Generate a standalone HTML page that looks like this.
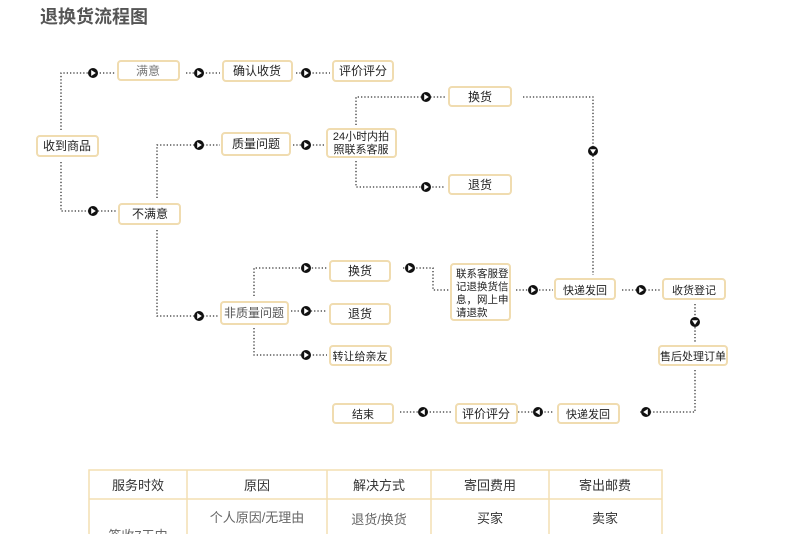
<!DOCTYPE html>
<html><head><meta charset="utf-8"><style>
body{margin:0;background:#fff;width:790px;height:534px;overflow:hidden;font-family:"Liberation Sans","Noto Sans CJK SC",sans-serif}
svg text{font-family:"Liberation Sans","Noto Sans CJK SC",sans-serif}
</style></head><body>
<svg width="790" height="534" viewBox="0 0 790 534" xmlns="http://www.w3.org/2000/svg">
<defs>
<g id="m"><circle r="5" fill="#111"/><path d="M-1.8,-3 L2.8,0 L-1.8,3Z" fill="#fff"/></g>
</defs>
<text x="40" y="23" font-size="18" font-weight="bold" fill="#555">退换货流程图</text>
<g fill="none" stroke="#333" stroke-width="1.3" stroke-dasharray="1.3 2">
<polyline points="61,130 61,73 116,73"/>
<polyline points="61,162 61,211 116,211"/>
<line x1="186" y1="73" x2="220" y2="73"/>
<line x1="296" y1="73" x2="330" y2="73"/>
<polyline points="157,198 157,145 220,145"/>
<line x1="293" y1="145" x2="325" y2="145"/>
<polyline points="356,125 356,97 445,97"/>
<polyline points="523,97 593,97 593,275"/>
<polyline points="356,161 356,187 445,187"/>
<polyline points="157,230 157,316 218,316"/>
<polyline points="254,296 254,268 327,268"/>
<line x1="291" y1="311" x2="327" y2="311"/>
<polyline points="254,328 254,355 327,355"/>
<polyline points="403,268 433,268 433,290 449,290"/>
<line x1="516" y1="290" x2="553" y2="290"/>
<line x1="622" y1="290" x2="660" y2="290"/>
<line x1="695" y1="304" x2="695" y2="342"/>
<polyline points="695,370 695,412 640,412"/>
<line x1="518" y1="412" x2="553" y2="412"/>
<line x1="400" y1="412" x2="452" y2="412"/>
</g>
<use href="#m" x="93" y="73"/><use href="#m" x="93" y="211"/>
<use href="#m" x="199" y="73"/><use href="#m" x="306" y="73"/>
<use href="#m" x="199" y="145"/><use href="#m" x="306" y="145"/>
<use href="#m" x="426" y="97"/><use href="#m" x="426" y="187"/>
<use href="#m" x="199" y="316"/>
<use href="#m" x="306" y="268"/><use href="#m" x="306" y="311"/><use href="#m" x="306" y="355"/>
<use href="#m" x="410" y="268"/><use href="#m" x="533" y="290"/><use href="#m" x="641" y="290"/>
<use href="#m" transform="translate(593,151) rotate(90)"/>
<use href="#m" transform="translate(695,322) rotate(90)"/>
<use href="#m" transform="translate(646,412) rotate(180)"/>
<use href="#m" transform="translate(538,412) rotate(180)"/>
<use href="#m" transform="translate(423,412) rotate(180)"/>
<g fill="#fff" stroke="#f0dcb0" stroke-width="2">
<rect x="37" y="136" width="61" height="20" rx="3"/>
<rect x="118" y="61" width="61" height="19" rx="3"/>
<rect x="223" y="61" width="69" height="20" rx="3"/>
<rect x="333" y="61" width="60" height="20" rx="3"/>
<rect x="222" y="133" width="68" height="22" rx="3"/>
<rect x="327" y="129" width="69" height="28" rx="3"/>
<rect x="119" y="204" width="61" height="20" rx="3"/>
<rect x="449" y="87" width="62" height="19" rx="3"/>
<rect x="449" y="175" width="62" height="19" rx="3"/>
<rect x="221" y="302" width="67" height="22" rx="3"/>
<rect x="330" y="261" width="60" height="20" rx="3"/>
<rect x="330" y="304" width="60" height="20" rx="3"/>
<rect x="330" y="346" width="61" height="19" rx="3"/>
<rect x="451" y="264" width="59" height="56" rx="3"/>
<rect x="555" y="279" width="60" height="20" rx="3"/>
<rect x="663" y="279" width="62" height="20" rx="3"/>
<rect x="659" y="346" width="68" height="19" rx="3"/>
<rect x="333" y="404" width="60" height="19" rx="3"/>
<rect x="456" y="404" width="61" height="19" rx="3"/>
<rect x="558" y="404" width="61" height="19" rx="3"/>
</g>
<g font-size="12" fill="#222" text-anchor="middle">
<text x="67" y="150">收到商品</text>
<text x="148" y="75" fill="#777">满意</text>
<text x="257" y="75">确认收货</text>
<text x="363" y="75">评价评分</text>
<text x="256" y="148">质量问题</text>
<text x="361" y="140" font-size="11">24小时内拍</text>
<text x="361" y="153" font-size="11">照联系客服</text>
<text x="150" y="218">不满意</text>
<text x="480" y="101">换货</text>
<text x="480" y="189">退货</text>
<text x="254" y="317" fill="#555">非质量问题</text>
<text x="360" y="275">换货</text>
<text x="360" y="318">退货</text>
<text x="360" y="360" font-size="11">转让给亲友</text>
<text x="585" y="294" font-size="11">快递发回</text>
<text x="694" y="294" font-size="11">收货登记</text>
<text x="693" y="360" font-size="11">售后处理订单</text>
<text x="363" y="418" font-size="11">结束</text>
<text x="486" y="418">评价评分</text>
<text x="588" y="418" font-size="11">快递发回</text>
</g>
<g font-size="10.5" fill="#222">
<text x="456" y="277">联系客服登</text>
<text x="456" y="290">记退换货信</text>
<text x="456" y="303">息，网上申</text>
<text x="456" y="316">请退款</text>
</g>
<g fill="none" stroke="#f3dfb2" stroke-width="1.5">
<rect x="89" y="470" width="573" height="70"/>
<line x1="89" y1="499" x2="662" y2="499"/>
<line x1="187" y1="470" x2="187" y2="534"/>
<line x1="327" y1="470" x2="327" y2="534"/>
<line x1="431" y1="470" x2="431" y2="534"/>
<line x1="549" y1="470" x2="549" y2="534"/>
</g>
<g font-size="13" fill="#333" text-anchor="middle">
<text x="138" y="490">服务时效</text>
<text x="257" y="490">原因</text>
<text x="379" y="490">解决方式</text>
<text x="490" y="490">寄回费用</text>
<text x="605" y="490">寄出邮费</text>
<text x="257" y="522" fill="#666">个人原因/无理由</text>
<text x="379" y="524" fill="#666">退货/换货</text>
<text x="490" y="523">买家</text>
<text x="605" y="523">卖家</text>
<text x="138" y="540" fill="#666">签收7天内</text>
</g>
</svg>
</body></html>
